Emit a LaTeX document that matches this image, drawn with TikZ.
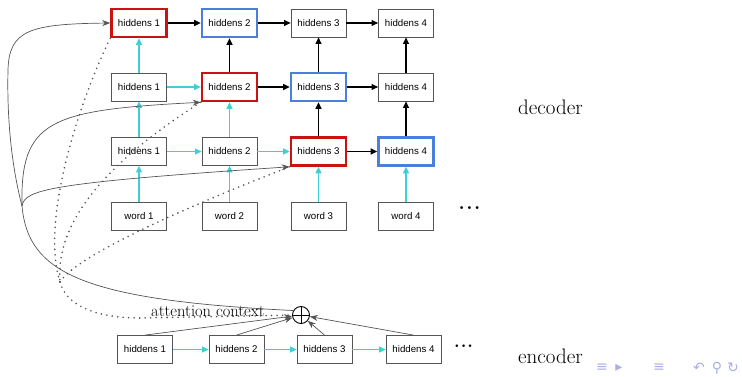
\documentclass[tikz,border=0pt]{standalone}
\usepackage{fontspec}
\newfontfamily\boxfont{Liberation Sans}
\newfontfamily\symfont{DejaVu Sans}
\usetikzlibrary{arrows.meta,calc}

\definecolor{hidred}{HTML}{CC1111}
\definecolor{hidblue}{HTML}{4A80DC}
\definecolor{flowcyan}{HTML}{3FCFD6}
\definecolor{linkgray}{HTML}{555555}
\definecolor{navblue}{HTML}{A9AEE6}

\begin{document}
\begin{tikzpicture}[x=1pt,y=-1pt,
  cell/.style={draw=linkgray, line width=0.8pt, minimum width=55pt, minimum height=28pt,
    inner sep=0pt, font=\boxfont\fontsize{9.7}{11}\selectfont},
  redcell/.style={cell, draw=hidred, line width=2.6pt},
  bluecell/.style={cell, draw=hidblue, line width=2.6pt},
  cyanarrow/.style={draw=flowcyan, line width=1.3pt, -{Triangle[length=6.5pt,width=6pt]}},
  blackarrow/.style={draw=black, line width=1.2pt, -{Triangle[length=6.5pt,width=6pt]}},
  feed/.style={draw=linkgray, line width=0.7pt, -{Stealth[length=8pt,width=6pt]}},
  trunk/.style={draw=linkgray, line width=0.7pt},
  attn/.style={draw=linkgray, line width=1.8pt, line cap=round, dash pattern=on 0pt off 5.5pt},
  bigtext/.style={inner sep=0pt, font=\fontsize{21}{25}\selectfont},
  navsym/.style={inner sep=0pt, text=navblue, font=\symfont\fontsize{14}{15}\selectfont},
]
\useasboundingbox (0,0) rectangle (742,377);

% decoder grid
\node[redcell]  (hA1) at (139,23)    {hiddens 1};
\node[bluecell] (hA2) at (229.5,23)  {hiddens 2};
\node[cell]     (hA3) at (318.5,23)  {hiddens 3};
\node[cell]     (hA4) at (406,23)    {hiddens 4};

\node[cell]     (hB1) at (139,87)    {hiddens 1};
\node[redcell]  (hB2) at (229.5,87)  {hiddens 2};
\node[bluecell] (hB3) at (318.5,87)  {hiddens 3};
\node[cell]     (hB4) at (406,87)    {hiddens 4};

\node[cell]     (hC1) at (139,151.5)   {hiddens 1};
\node[cell]     (hC2) at (229.5,151.5) {hiddens 2};
\node[redcell]  (hC3) at (318.5,151.5) {hiddens 3};
\node[bluecell] (hC4) at (406,151.5)   {hiddens 4};

\node[cell] (w1) at (139,216)   {word 1};
\node[cell] (w2) at (229.5,216) {word 2};
\node[cell] (w3) at (318.5,216) {word 3};
\node[cell] (w4) at (406,216)   {word 4};

% encoder row
\node[cell] (e1) at (145,349.5)   {hiddens 1};
\node[cell] (e2) at (236.5,349.5) {hiddens 2};
\node[cell] (e3) at (324.5,349.5) {hiddens 3};
\node[cell] (e4) at (413.5,349.5) {hiddens 4};

% combining node
\node[circle, draw=black, line width=0.9pt, minimum size=17pt, inner sep=0pt] (op) at (301,315) {};
\draw[line width=0.9pt] (op.north) -- (op.south) (op.west) -- (op.east);

% labels
\node[anchor=base west, inner sep=0pt, font=\fontsize{16.5}{19}\selectfont] (attlbl) at (151,316) {attention context};
\node[bigtext, anchor=base west] (declbl) at (518,115) {decoder};
\node[bigtext, anchor=base west] (enclbl) at (518,363) {encoder};
\node[anchor=base west, inner sep=0pt, font=\bfseries\fontsize{20}{22}\selectfont]
  (decdots) at (458.5,209.5) {.\kern1.4pt.\kern1.4pt.};
\node[anchor=base west, inner sep=0pt, font=\bfseries\fontsize{18}{20}\selectfont]
  (encdots) at (454,347.3) {.\kern1pt.\kern1pt.};

% recurrent flow
\draw[cyanarrow] (hB1) -- (hB2);
\draw[cyanarrow] (hC1) -- (hC2);
\draw[cyanarrow] (hC2) -- (hC3);
\draw[cyanarrow] (w1) -- (hC1);
\draw[cyanarrow] (hC1) -- (hB1);
\draw[cyanarrow] (hB1) -- (hA1);
\draw[cyanarrow] (w2) -- (hC2);
\draw[cyanarrow] (hC2) -- (hB2);
\draw[cyanarrow] (w3) -- (hC3);
\draw[cyanarrow] (w4) -- (hC4);
\draw[cyanarrow] (e1) -- (e2);
\draw[cyanarrow] (e2) -- (e3);
\draw[cyanarrow] (e3) -- (e4);

\draw[blackarrow] (hA1) -- (hA2);
\draw[blackarrow] (hA2) -- (hA3);
\draw[blackarrow] (hA3) -- (hA4);
\draw[blackarrow] (hB2) -- (hB3);
\draw[blackarrow] (hB3) -- (hB4);
\draw[blackarrow] (hC3) -- (hC4);
\draw[blackarrow] (hB2) -- (hA2);
\draw[blackarrow] (hC3) -- (hB3);
\draw[blackarrow] (hB3) -- (hA3);
\draw[blackarrow] (hC4) -- (hB4);
\draw[blackarrow] (hB4) -- (hA4);

% encoder states into the sum
\draw[feed] (e1.north) -- (op);
\draw[feed] (e2.north) -- (op);
\draw[feed] (e3.north) -- (op);
\draw[feed] (e4.north) -- (op);

% context fed back to the decoder
\coordinate (ctxhub) at (22,206);
\draw[trunk] (op.150) .. controls (80,300) and (28,272) .. (ctxhub);
\draw[feed] (ctxhub) .. controls (10,160) and (7,110) .. (8,70)
  .. controls (9,30) and (30,24) .. (hA1.west);
\draw[feed] (ctxhub) .. controls (20,120) and (50,110) .. (hB2.south west);
\draw[feed] (ctxhub) .. controls (25,190) and (45,183) .. (hC3.south west);

% attention queries
\coordinate (dothub) at (60,282);
\draw[attn] (hA1.south west) .. controls (80,100) and (40,220) .. (dothub);
\draw[attn] (hB2.south west) .. controls (110,160) and (55,220) .. (dothub);
\draw[attn] (hC3.south west) .. controls (230,190) and (80,250) .. (dothub);
\draw[attn] (dothub) .. controls (66,305) and (95,318) .. (140,318) -- (op);

% navigation symbols
\node[navsym] (navA) at (602,368) {≡};
\node[navsym] (navB) at (619,368) {▸};
\node[navsym] (navC) at (659,368) {≡};
\node[navsym] (navD) at (699,368) {↶};
\node[navsym] (navE) at (717,368) {⚲};
\node[navsym] (navF) at (733,368) {↻};
\end{tikzpicture}
\end{document}
